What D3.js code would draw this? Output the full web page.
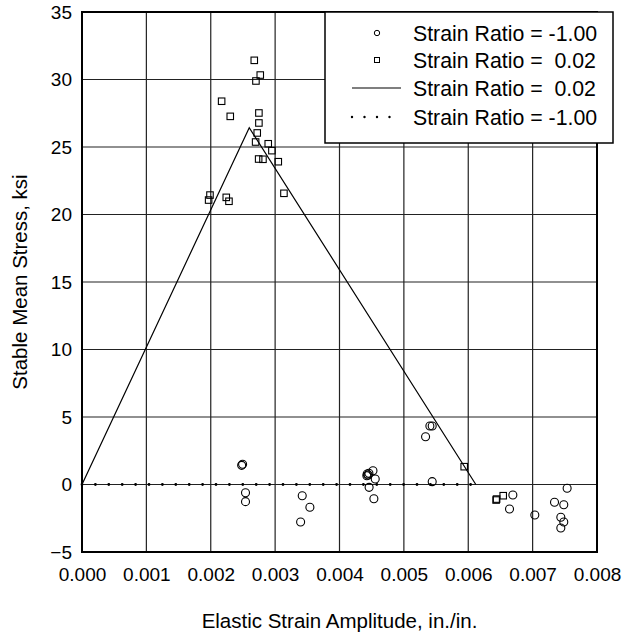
<!DOCTYPE html>
<html><head><meta charset="utf-8">
<script src="https://cdn.jsdelivr.net/npm/d3@7"></script>
<style>
html,body{margin:0;padding:0;background:#fff;}
text{font-family:"Liberation Sans",Arial,sans-serif;fill:#000;}
</style></head>
<body><svg id="chart" width="632" height="635"></svg>
<script>
// Data (x in in./in., y in ksi)
const xTicks = [0,0.001,0.002,0.003,0.004,0.005,0.006,0.007,0.008];
const yTicks = [-5,0,5,10,15,20,25,30,35];
const squaresR002 = [
  [0.002676,31.42],[0.002769,30.33],[0.002702,29.89],[0.002169,28.39],[0.002303,27.27],
  [0.002748,27.52],[0.002748,26.78],[0.002722,26.04],[0.002697,25.37],[0.002893,25.24],
  [0.002950,24.73],[0.002744,24.11],[0.002811,24.09],[0.003049,23.91],[0.003137,21.57],
  [0.001988,21.44],[0.001967,21.07],[0.002241,21.27],[0.002283,20.98],[0.005937,1.32],
  [0.006433,-1.15],[0.006440,-1.08],[0.006543,-0.83]
];
const circlesRm1 = [
  [0.002480,1.42],[0.002495,1.50],[0.002540,-0.61],[0.002540,-1.27],[0.003421,-0.83],
  [0.003540,-1.69],[0.003396,-2.78],[0.004430,0.78],[0.004446,0.70],[0.004425,0.65],
  [0.004457,0.83],[0.004520,1.02],[0.004555,0.41],[0.004460,-0.21],[0.004534,-1.05],
  [0.005404,4.33],[0.005440,4.33],[0.005337,3.54],[0.005440,0.21],[0.006693,-0.78],
  [0.006641,-1.81],[0.007034,-2.26],[0.007536,-0.28],[0.007340,-1.32],[0.007484,-1.50],
  [0.007438,-2.43],[0.007484,-2.78],[0.007438,-3.22]
];
const lineR002 = [[0,0],[0.002598,26.43],[0.006118,0]];
const lineRm1 = [[0,0],[0.00624,0]];
const legendLabels = ["Strain Ratio = -1.00","Strain Ratio =  0.02","Strain Ratio =  0.02","Strain Ratio = -1.00"];

const svg = d3.select("#chart");
const m = {left:82, right:597, top:12, bottom:552};
const x = d3.scaleLinear().domain([0,0.008]).range([m.left,m.right]);
const y = d3.scaleLinear().domain([-5,35]).range([m.bottom,m.top]);
const fs = "19px";

// grid
svg.append("g").selectAll("line").data(xTicks).join("line")
  .attr("x1",d=>x(d)).attr("x2",d=>x(d)).attr("y1",m.top).attr("y2",m.bottom)
  .attr("stroke","#222").attr("stroke-width",1.2);
svg.append("g").selectAll("line").data(yTicks).join("line")
  .attr("y1",d=>y(d)).attr("y2",d=>y(d)).attr("x1",m.left).attr("x2",m.right)
  .attr("stroke","#222").attr("stroke-width",1.2);

// axes (labels only)
const xAxis = d3.axisBottom(x).tickValues(xTicks).tickFormat(d3.format(".3f")).tickSize(0).tickPadding(16);
const gx = svg.append("g").attr("transform",`translate(0,${m.bottom})`).call(xAxis);
gx.select(".domain").remove();
gx.selectAll("text").style("font-size",fs).style("font-family","Liberation Sans, Arial, sans-serif").attr("fill","#000");
const yAxis = d3.axisLeft(y).tickValues(yTicks).tickFormat(d3.format("d")).tickSize(0).tickPadding(10);
const gy = svg.append("g").attr("transform",`translate(${m.left},0)`).call(yAxis);
gy.select(".domain").remove();
gy.selectAll("text").style("font-size",fs).style("font-family","Liberation Sans, Arial, sans-serif").attr("fill","#000");

// frame
svg.append("rect").attr("x",m.left).attr("y",m.top).attr("width",m.right-m.left).attr("height",m.bottom-m.top)
  .attr("fill","none").attr("stroke","#000").attr("stroke-width",2);

const line = d3.line().x(d=>x(d[0])).y(d=>y(d[1]));
svg.append("path").attr("d",line(lineR002)).attr("fill","none").attr("stroke","#000").attr("stroke-width",1.2);
svg.append("path").attr("d",line(lineRm1)).attr("fill","none").attr("stroke","#000").attr("stroke-width",2.8)
  .attr("stroke-linecap","round").attr("stroke-dasharray","0,13.4");

// markers
svg.append("g").selectAll("circle").data(circlesRm1).join("circle")
  .attr("cx",d=>x(d[0])).attr("cy",d=>y(d[1])).attr("r",4)
  .attr("fill","none").attr("stroke","#000").attr("stroke-width",1.1);
const sq = 6.5;
svg.append("g").selectAll("rect").data(squaresR002).join("rect")
  .attr("x",d=>x(d[0])-sq/2).attr("y",d=>y(d[1])-sq/2).attr("width",sq).attr("height",sq)
  .attr("fill","none").attr("stroke","#000").attr("stroke-width",1.1);

// legend
const lg = svg.append("g");
lg.append("rect").attr("x",325).attr("y",12).attr("width",288).attr("height",131)
  .attr("fill","#fff").attr("stroke","#000").attr("stroke-width",1.5);
const rows = [33,60,88,117];
lg.append("circle").attr("cx",377).attr("cy",rows[0]).attr("r",2.7).attr("fill","none").attr("stroke","#000").attr("stroke-width",1);
lg.append("rect").attr("x",374.5).attr("y",rows[1]-2.5).attr("width",5).attr("height",5).attr("fill","none").attr("stroke","#000").attr("stroke-width",1);
lg.append("line").attr("x1",352).attr("x2",401).attr("y1",rows[2]).attr("y2",rows[2]).attr("stroke","#000").attr("stroke-width",1.2);
lg.append("line").attr("x1",352).attr("x2",391).attr("y1",rows[3]).attr("y2",rows[3]).attr("stroke","#000").attr("stroke-width",2.4)
  .attr("stroke-linecap","round").attr("stroke-dasharray","0,12.5");
lg.selectAll("text").data(legendLabels).join("text")
  .attr("x",413).attr("y",(d,i)=>rows[i]+7.5).style("font-size","21.3px").style("white-space","pre")
  .attr("xml:space","preserve").text(d=>d);

// axis titles
svg.append("text").attr("x",(m.left+m.right)/2).attr("y",628).attr("text-anchor","middle")
  .style("font-size","20.5px").text("Elastic Strain Amplitude, in./in.");
svg.append("text").attr("transform",`translate(27,${(m.top+m.bottom)/2}) rotate(-90)`).attr("text-anchor","middle")
  .style("font-size","20.5px").text("Stable Mean Stress, ksi");
</script></body></html>
